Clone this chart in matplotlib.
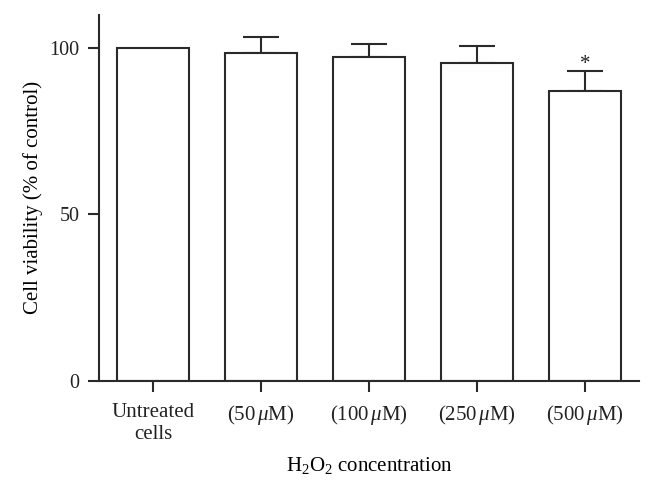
import numpy as np
import matplotlib as mpl
import matplotlib.pyplot as plt

# Data
categories = ['Untreated\ncells', r'(50$\,\mu$M)', r'(100$\,\mu$M)',
              r'(250$\,\mu$M)', r'(500$\,\mu$M)']
viability = [100.0, 98.7, 97.4, 95.6, 87.2]
sem_upper = [0.0, 4.6, 3.8, 5.2, 5.9]
significant = [False, False, False, False, True]

yticks = [0, 50, 100]

mpl.rcParams.update({
    'font.family': ['Liberation Serif', 'DejaVu Serif'],
    'font.size': 15,
    'mathtext.fontset': 'custom',
    'mathtext.rm': 'Liberation Serif',
    'mathtext.it': 'Liberation Serif:italic',
    'mathtext.bf': 'Liberation Serif:bold',
    'text.color': '#222222',
    'axes.edgecolor': '#2a2a2a',
    'xtick.color': '#2a2a2a',
    'ytick.color': '#2a2a2a',
    'xtick.labelcolor': '#222222',
    'ytick.labelcolor': '#222222',
})

fig = plt.figure(figsize=(6.54, 4.93), dpi=100)
ax = fig.add_axes([0.1514, 0.2278, 0.977 - 0.1514, 0.9696 - 0.2278])

x = np.arange(len(categories))
lw = 1.5
ax.bar(x, viability, width=0.667, color='white', edgecolor='#2a2a2a',
       linewidth=lw, zorder=2)
ax.errorbar(x[1:], viability[1:],
            yerr=[np.zeros(len(x) - 1), sem_upper[1:]],
            fmt='none', ecolor='#2a2a2a', elinewidth=lw, capsize=13.3,
            capthick=lw, zorder=1)

for xi, v, e, sig in zip(x, viability, sem_upper, significant):
    if sig:
        ax.annotate('*', (xi, v + e), xytext=(0, -2), textcoords='offset points',
                    ha='center', va='bottom', fontsize=15)

ax.set_xlim(-0.5, 4.5)
ax.set_ylim(0, 110)
ax.set_yticks(yticks)
ax.set_xticks(x)
ax.set_xticklabels(categories, linespacing=1.2)
ax.tick_params(axis='y', labelsize=14.5)

for side in ('top', 'right'):
    ax.spines[side].set_visible(False)
for side in ('left', 'bottom'):
    ax.spines[side].set_linewidth(lw)

ax.tick_params(axis='both', length=8, width=lw, direction='out', pad=6)
ax.tick_params(axis='x', pad=8)

ax.set_ylabel('Cell viability (% of control)', labelpad=5)
ax.set_xlabel(r'H$_2$O$_2$ concentration', labelpad=8)

fig.savefig('out.png', dpi=100, facecolor='white')
